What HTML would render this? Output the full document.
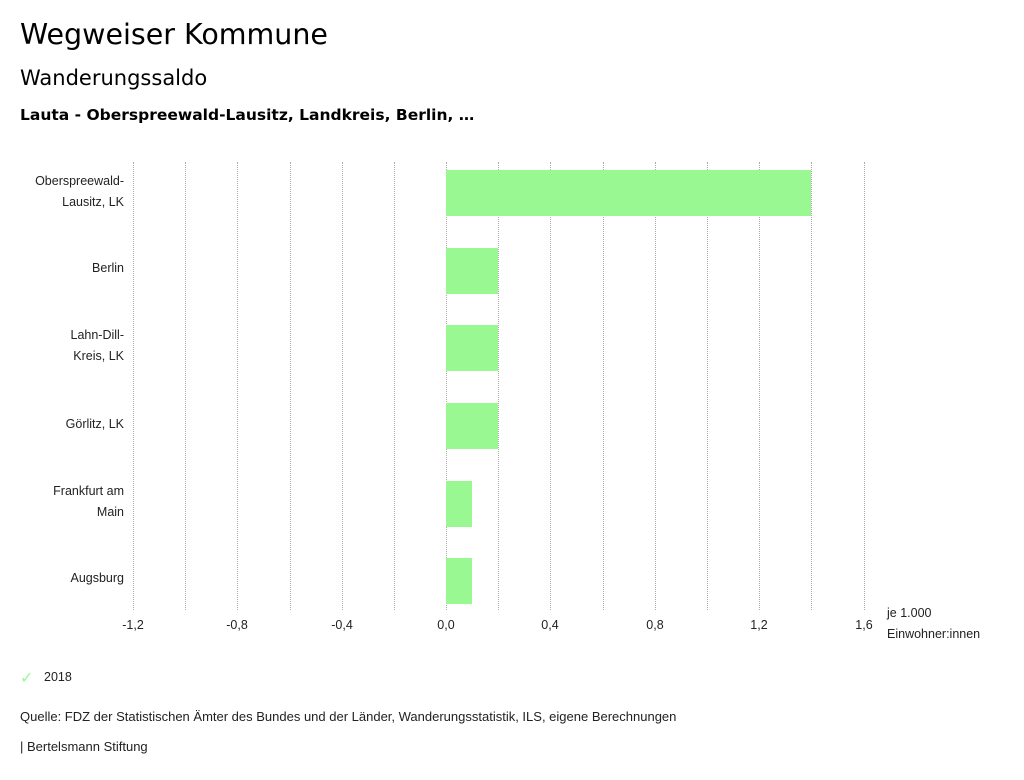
<!DOCTYPE html>
<html><head><meta charset="utf-8"><style>
body{margin:0;width:1024px;height:780px;background:#fff;font-family:"Liberation Sans",sans-serif;color:#000;position:relative;overflow:hidden}
.a{position:absolute;white-space:nowrap}
.d{font-family:"DejaVu Sans",sans-serif}
.lbl{position:absolute;right:900px;text-align:right;font-size:12.5px;line-height:21px;color:#222}
.t{position:absolute;top:618px;font-size:12.5px;transform:translateX(-50%);color:#222}
.g{position:absolute;top:162px;height:448px;border-left:1px dotted #aaa}
.b{position:absolute;left:446px;height:46px;background:#9af893}
</style></head><body>
<div class="a d" style="left:20px;top:18px;font-size:28.5px">Wegweiser Kommune</div>
<div class="a d" style="left:20px;top:66px;font-size:21px">Wanderungssaldo</div>
<div class="a d" style="left:20px;top:106px;font-size:15.5px;font-weight:bold">Lauta - Oberspreewald-Lausitz, Landkreis, Berlin, …</div>

<div class="g" style="left:133px"></div><div class="g" style="left:185px"></div><div class="g" style="left:237px"></div><div class="g" style="left:290px"></div><div class="g" style="left:342px"></div><div class="g" style="left:394px"></div><div class="g" style="left:446px"></div><div class="g" style="left:498px"></div><div class="g" style="left:550px"></div><div class="g" style="left:603px"></div><div class="g" style="left:655px"></div><div class="g" style="left:707px"></div><div class="g" style="left:759px"></div><div class="g" style="left:811px"></div><div class="g" style="left:864px"></div>

<div class="b" style="top:170px;width:365px"></div>
<div class="b" style="top:248px;width:52px"></div>
<div class="b" style="top:325px;width:52px"></div>
<div class="b" style="top:403px;width:52px"></div>
<div class="b" style="top:481px;width:26px"></div>
<div class="b" style="top:558px;width:26px"></div>

<div class="lbl" style="top:171px">Oberspreewald-<br>Lausitz, LK</div>
<div class="lbl" style="top:258px">Berlin</div>
<div class="lbl" style="top:325px">Lahn-Dill-<br>Kreis, LK</div>
<div class="lbl" style="top:414px">Görlitz, LK</div>
<div class="lbl" style="top:481px">Frankfurt am<br>Main</div>
<div class="lbl" style="top:568px">Augsburg</div>

<div class="t" style="left:133px">-1,2</div><div class="t" style="left:237px">-0,8</div><div class="t" style="left:342px">-0,4</div><div class="t" style="left:446px">0,0</div><div class="t" style="left:550px">0,4</div><div class="t" style="left:655px">0,8</div><div class="t" style="left:759px">1,2</div><div class="t" style="left:864px">1,6</div>
<div class="a" style="left:887px;top:603px;font-size:12.5px;line-height:21px;color:#222">je 1.000<br>Einwohner:innen</div>

<div class="a" style="left:20px;top:668px;font-size:16px;color:#9af893">✓</div>
<div class="a" style="left:44px;top:670px;font-size:12.5px;color:#222">2018</div>
<div class="a" style="left:20px;top:709px;font-size:13px;color:#222">Quelle: FDZ der Statistischen Ämter des Bundes und der Länder, Wanderungsstatistik, ILS, eigene Berechnungen</div>
<div class="a" style="left:20px;top:739px;font-size:13px;color:#222">| Bertelsmann Stiftung</div>
</body></html>
